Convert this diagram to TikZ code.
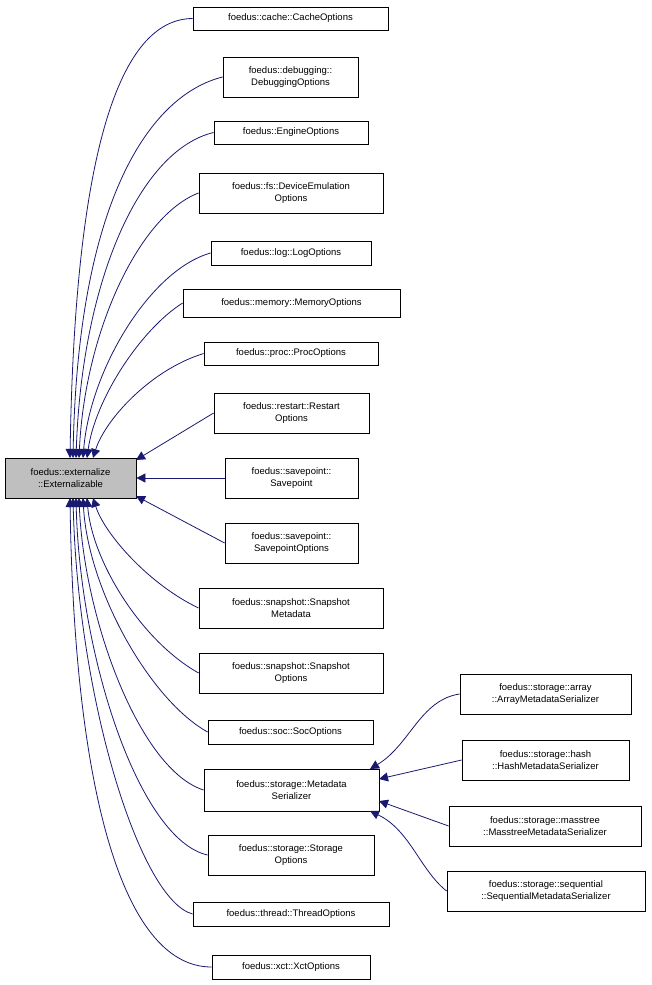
\documentclass[tikz,border=0pt]{standalone}
\usepackage{fontspec}
\setmainfont{Liberation Sans}
\usetikzlibrary{arrows.meta}
\definecolor{navy}{HTML}{191970}
\begin{document}
\begin{tikzpicture}[x=1pt,y=-1pt,
  box/.style={draw=black,fill=white,align=center,inner sep=0pt,font=\fontsize{9.5}{12}\selectfont,line width=0.8pt},
  edge/.style={draw=navy,line width=0.8pt,-{Triangle[length=9pt,width=9pt,fill=navy]}}]
\useasboundingbox (0,0) rectangle (651,985);
\newcommand{\bx}[6]{\node[box,minimum width=#4-#3,minimum height=#6-#5] (#1) at ({(#3+#4)/2},{(#5+#6)/2}) {#2};}
\node[box,fill=black!25,minimum width=131,minimum height=40] (ext) at (70.5,478) {foedus::externalize\\::Externalizable};
\bx{cache}{foedus::cache::CacheOptions}{193}{388}{7}{30}
\bx{debug}{foedus::debugging::\\DebuggingOptions}{223}{358}{57}{97}
\bx{engine}{foedus::EngineOptions}{214}{368}{121}{144}
\bx{dev}{foedus::fs::DeviceEmulation\\Options}{199}{383}{173}{213}
\bx{log}{foedus::log::LogOptions}{211}{371}{241}{265}
\bx{mem}{foedus::memory::MemoryOptions}{183}{400}{289}{317}
\bx{proc}{foedus::proc::ProcOptions}{204}{378}{342}{365}
\bx{restart}{foedus::restart::Restart\\Options}{214}{369}{393}{433}
\bx{sp}{foedus::savepoint::\\Savepoint}{225}{358}{458}{498}
\bx{spo}{foedus::savepoint::\\SavepointOptions}{225}{358}{523}{563}
\bx{snm}{foedus::snapshot::Snapshot\\Metadata}{199}{383}{588}{628}
\bx{sno}{foedus::snapshot::Snapshot\\Options}{199}{383}{653}{693}
\bx{soc}{foedus::soc::SocOptions}{208}{373}{720}{744}
\bx{meta}{foedus::storage::Metadata\\Serializer}{204}{379}{769}{811}
\bx{sto}{foedus::storage::Storage\\Options}{208}{374}{835}{875}
\bx{thr}{foedus::thread::ThreadOptions}{193}{389}{902}{926}
\bx{xct}{foedus::xct::XctOptions}{212}{370}{955}{979}
\bx{arr}{foedus::storage::array\\::ArrayMetadataSerializer}{460}{631}{674}{714}
\bx{hash}{foedus::storage::hash\\::HashMetadataSerializer}{462}{629}{740}{780}
\bx{mass}{foedus::storage::masstree\\::MasstreeMetadataSerializer}{449}{641}{806}{846}
\bx{seq}{foedus::storage::sequential\\::SequentialMetadataSerializer}{447}{645}{871}{911}
% top edges
\draw[edge] (cache.west) .. controls (120,19) and (75,150) .. (70,458);
\draw[edge] (debug.west) .. controls (150,95) and (78,200) .. (73,458);
\draw[edge] (engine.west) .. controls (140,150) and (82,280) .. (76,458);
\draw[edge] (dev.west) .. controls (140,215) and (85,330) .. (79,458);
\draw[edge] (log.west) .. controls (150,270) and (90,370) .. (83,458);
\draw[edge] (mem.west) .. controls (140,330) and (95,400) .. (87,458);
\draw[edge] (proc.west) .. controls (150,370) and (105,420) .. (93,458);
\draw[edge] (restart.west) -- (136,460);
\draw[edge] (sp.west) -- (ext.east);
\draw[edge] (spo.west) -- (136,496);
\draw[edge] (snm.west) .. controls (150,585) and (105,535) .. (93,498);
\draw[edge] (sno.west) .. controls (140,640) and (92,560) .. (87,498);
\draw[edge] (soc.west) .. controls (150,700) and (88,590) .. (83,498);
\draw[edge] (meta.west) .. controls (140,770) and (84,620) .. (79,498);
\draw[edge] (sto.west) .. controls (140,840) and (80,660) .. (76,498);
\draw[edge] (thr.west) .. controls (140,900) and (78,700) .. (73,498);
\draw[edge] (xct.west) .. controls (120,967) and (74,780) .. (70,498);
% storage edges
\draw[edge] (arr.west) .. controls (420,700) and (410,745) .. (370,769);
\draw[edge] (hash.west) -- (379,779);
\draw[edge] (mass.west) -- (379,801);
\draw[edge] (seq.west) .. controls (420,870) and (410,830) .. (370,811);
\end{tikzpicture}
\end{document}
